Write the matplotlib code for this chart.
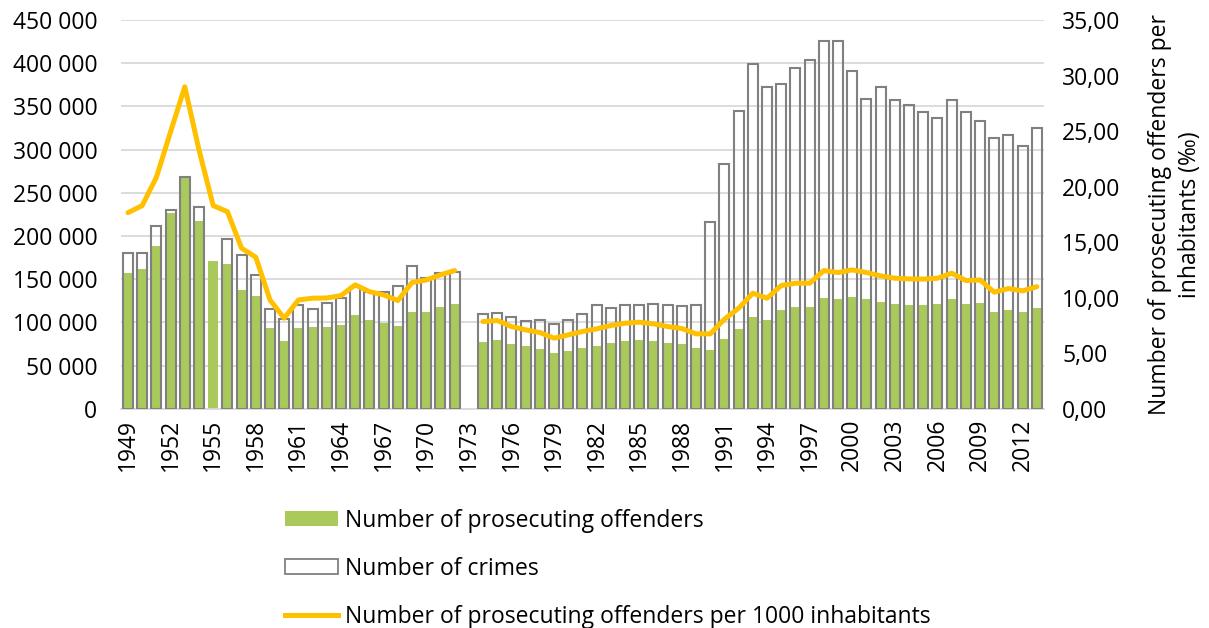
import numpy as np
import matplotlib
matplotlib.use("Agg")
import matplotlib.pyplot as plt
import matplotlib.patches as pt
from matplotlib.lines import Line2D
from matplotlib.ticker import FuncFormatter

plt.rcParams['font.family'] = ['Open Sans', 'DejaVu Sans']

years = list(range(1949, 2014))

# number of prosecuting offenders (1973 missing)
offenders = [157000, 162000, 188000, 227000, 268000, 217000, 171000, 167500, 137000, 130500,
             94000, 78700, 93000, 94400, 95300, 97200, 108800, 103000, 99900, 96400,
             111900, 112300, 117300, 121900, np.nan, 77900, 79900, 75200, 72500, 69400,
             64800, 67500, 70600, 72900, 76400, 78700, 79900, 78700, 76400, 74800,
             70600, 68500, 81000, 92200, 106500, 102600, 114200, 118000, 118000, 128500,
             127000, 129300, 127000, 123800, 121100, 120400, 120400, 121900, 127300, 121500,
             122300, 111900, 114200, 111900, 116900]

# number of crimes (1955 and 1973 missing)
crimes = [180900, 180200, 211800, 230300, 268500, 234000, np.nan, 196400, 178600, 155000,
          115400, 104500, 120000, 115400, 123000, 128000, 141000, 135800, 135800, 142700,
          165500, 151200, 157800, 158200, np.nan, 109600, 110800, 106100, 102200, 102600,
          98000, 103000, 110000, 120400, 116500, 120700, 120700, 121900, 120400, 119600,
          120700, 216800, 283200, 345300, 399000, 372300, 375800, 394300, 404000, 426000,
          426300, 391600, 358400, 372300, 357600, 351900, 344100, 336400, 357600, 343800,
          333000, 313300, 317100, 304400, 325200]

# offenders per 1000 inhabitants
per_1000 = [17.66, 18.3, 20.85, 24.95, 29.0, 23.3, 18.3, 17.75, 14.46, 13.65,
            9.8, 8.16, 9.8, 9.96, 9.98, 10.2, 11.16, 10.55, 10.26, 9.75,
            11.37, 11.6, 12.06, 12.45, np.nan, 7.86, 7.95, 7.41, 7.11, 6.87,
            6.36, 6.66, 6.96, 7.2, 7.5, 7.71, 7.8, 7.65, 7.41, 7.23,
            6.75, 6.75, 8.07, 9.06, 10.41, 9.96, 11.1, 11.31, 11.31, 12.45,
            12.27, 12.51, 12.27, 11.97, 11.76, 11.7, 11.68, 11.76, 12.21, 11.55,
            11.6, 10.5, 10.83, 10.62, 11.0]

tick_years = list(range(1949, 2014, 3))

green = '#a9c95a'
edge = '#808080'
orange = '#ffc000'

fig = plt.figure(figsize=(12.09, 6.28), dpi=100)
ax = fig.add_axes([0.100, 0.349, 0.7635, 0.619])

# green bars under the outlined crimes bars
ax.bar(years, offenders, width=0.7, color=green, zorder=2)
ax.bar(years, crimes, width=0.7, facecolor='none', edgecolor=edge, linewidth=1.5, zorder=3)

ax.set_xlim(1948.5, 2013.5)
ax.set_ylim(0, 450000)
ax.set_yticks(np.arange(0, 450001, 50000))
ax.yaxis.set_major_formatter(FuncFormatter(lambda v, p: f"{int(v):,}".replace(",", " ")))
ax.set_xticks(tick_years)
ax.set_xticklabels([str(y) for y in tick_years], rotation=90)
ax.grid(axis='y', color='#d9d9d9', linewidth=1.3, zorder=0)
ax.set_axisbelow(True)
for s in ['top', 'right', 'left']:
    ax.spines[s].set_visible(False)
ax.spines['bottom'].set_color('#d9d9d9')
ax.spines['bottom'].set_linewidth(1.3)
ax.tick_params(axis='both', length=0, labelsize=16.5, colors='black')
ax.tick_params(axis='x', pad=7)
ax.tick_params(axis='y', pad=17)

ax2 = ax.twinx()
ax2.plot(years, per_1000, color=orange, linewidth=3.6, solid_capstyle='round', solid_joinstyle='round')
ax2.set_ylim(0, 35)
ax2.set_yticks(np.arange(0, 35.1, 5))
ax2.yaxis.set_major_formatter(FuncFormatter(lambda v, p: f"{v:.2f}".replace(".", ",")))
for s in ax2.spines.values():
    s.set_visible(False)
ax2.tick_params(axis='y', length=0, labelsize=16.5, pad=13)
ax2.set_ylabel("Number of prosecuting offenders per\ninhabitants (‰)", fontsize=16.5,
               labelpad=20, linespacing=1.3)

handles = [pt.Patch(facecolor=green, edgecolor='none'),
           pt.Patch(facecolor='white', edgecolor=edge, linewidth=1.3),
           Line2D([0], [0], color=orange, linewidth=3.6)]
labels = ["Number of prosecuting offenders", "Number of crimes",
          "Number of prosecuting offenders per 1000 inhabitants"]
fig.legend(handles, labels, loc='upper left', bbox_to_anchor=(0.236, 0.190), frameon=False,
           fontsize=16.5, handlelength=2.3, handleheight=0.65, handletextpad=0.3,
           labelspacing=1.05, borderaxespad=0, borderpad=0)

fig.savefig("out.png", dpi=100)
